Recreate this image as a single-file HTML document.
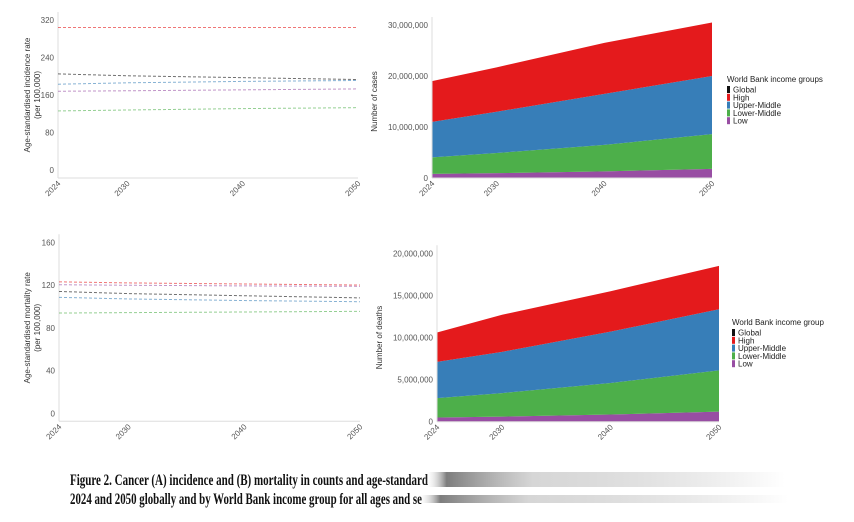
<!DOCTYPE html>
<html><head><meta charset="utf-8">
<style>
html,body{margin:0;padding:0;background:#fff;width:854px;height:522px;overflow:hidden}
svg text{font-family:"Liberation Sans",sans-serif}
</style></head>
<body>
<svg id="s" width="854" height="522" viewBox="0 0 854 522">
<defs>
<linearGradient id="fade" x1="0" x2="1" y1="0" y2="0">
<stop offset="0" stop-color="#fff" stop-opacity="0"/>
<stop offset="0.06" stop-color="#666" stop-opacity="0.85"/>
<stop offset="0.3" stop-color="#bbb" stop-opacity="0.6"/>
<stop offset="1" stop-color="#fff" stop-opacity="1"/>
</linearGradient>
</defs>
</svg>
<script>
const years=[2024,2030,2040,2050];
const xTicks=[2024,2030,2040,2050];
// Panel A left: incidence rates
const incGlobal=[205,201,197,193];
const incHigh=[304,304,304,304];
const incUpper=[183,186,189,191];
const incLower=[126,128,131,133];
const incLow=[168,169,171,173];
const incTicks=[0,80,160,240,320];
// Panel A right: cases (millions), stacked
const casesLow=[0.8,0.95,1.3,1.8];
const casesLower=[3.25,3.95,5.2,6.8];
const casesUpper=[6.95,8.1,10.0,11.4];
const casesHigh=[8.0,8.7,10.0,10.5];
const casesTicks=[0,10,20,30];
// Panel B left: mortality rates
const morGlobal=[114,112,110,108];
const morHigh=[123,122,121,120];
const morUpper=[108.5,107,105.5,104.4];
const morLower=[93.8,94.2,94.8,95.4];
const morLow=[120.3,119.8,119.2,118.8];
const morTicks=[0,40,80,120,160];
// Panel B right: deaths (millions), stacked
const deathsLow=[0.5,0.6,0.85,1.2];
const deathsLower=[2.3,2.8,3.75,4.9];
const deathsUpper=[4.3,4.9,6.1,7.25];
const deathsHigh=[3.5,4.4,4.8,5.15];
const deathsTicks=[0,5,10,15,20];

const NS="http://www.w3.org/2000/svg";
const svg=document.getElementById('s');
function mk(tag,attrs,parent){const e=document.createElementNS(NS,tag);for(const k in attrs)e.setAttribute(k,attrs[k]);(parent||svg).appendChild(e);return e;}
function fmt(v){return Math.round(v).toString().replace(/\B(?=(\d{3})+(?!\d))/g,",");}
const C={global:"#111",high:"#e41a1c",upper:"#377eb8",lower:"#4daf4a",low:"#984ea3"};

function axes(g,x0,x1,yTop,yBot,tickVals,yScale,lab){
  let l=mk('line',{x1:x0,x2:x0,y1:yTop-8,y2:yBot,stroke:'#ddd','stroke-width':1},g);
  
  l=mk('line',{x1:x0,x2:x1,y1:yBot,y2:yBot,stroke:'#ddd','stroke-width':1},g);
  
  tickVals.forEach(v=>{const y=yScale(v);
    const t=mk('text',{x:x0-4,y:y+3,'text-anchor':'end','font-size':8,fill:'#555'},g);t.textContent=lab(v);
    });
}
function xTickLabels(g,xScale,yBot){
  xTicks.forEach(v=>{const x=xScale(v);
    const t=mk('text',{x:x+3,y:yBot+6,'text-anchor':'end','font-size':8,fill:'#555',transform:`rotate(-45 ${x+3} ${yBot+6})`},g);
    t.textContent=v;});
}
function ytitle(g,x,y,lines){
  lines.forEach((s,i)=>{const t=mk('text',{x:x+i*10,y:y,'text-anchor':'middle','font-size':8,fill:'#333',transform:`rotate(-90 ${x+i*10} ${y})`},g);
    t.textContent=s;});
}
function ratePanel(name,x0,x1,yTop,yBot,max,ticks,series,title){
  const g=mk('g',{});
  const xs=v=>x0+(v-2024)/(2050-2024)*(x1-x0);
  const ys=v=>yBot-v/max*(yBot-yTop);
  axes(g,x0,x1,yTop,yBot+8,ticks,ys,v=>v);
  xTickLabels(g,xs,yBot+8);
  ytitle(g,30,(yTop+yBot)/2,title);
  series.forEach(([arr,col,n])=>{
    const p=mk('polyline',{points:arr.map((v,i)=>xs(years[i])+','+ys(v)).join(' '),fill:'none',stroke:col,'stroke-width':1,'stroke-dasharray':'3,2','stroke-opacity':0.6},g);
    
  });
}
function areaPanel(name,x0,x1,yTop,yBot,max,ticks,layers,title,lx,ly,ltitle){
  const g=mk('g',{});
  const xs=v=>x0+(v-2024)/(2050-2024)*(x1-x0);
  const ys=v=>yBot-v/max*(yBot-yTop);
  let base=years.map(()=>0);
  layers.forEach(([arr,col,n])=>{
    const top=base.map((b,i)=>b+arr[i]);
    const pts=top.map((v,i)=>xs(years[i])+','+ys(v)).concat(base.map((v,i)=>xs(years[i])+','+ys(v)).reverse());
    const p=mk('polygon',{points:pts.join(' '),fill:col},g);
    
    base=top;
  });
  axes(g,x0,x1,yTop,yBot,ticks,ys,v=>fmt(v*1e6));
  xTickLabels(g,xs,yBot);
  ytitle(g,x0-55,(yTop+yBot)/2,[title]);
  const lg=mk('g',{},g);
  let t=mk('text',{x:lx,y:ly,'font-size':8,fill:'#222'},lg);t.textContent=ltitle;
  
  [["Global",C.global],["High",C.high],["Upper-Middle",C.upper],["Lower-Middle",C.lower],["Low",C.low]].forEach(([s,c],i)=>{
    const y=ly+9+i*7.8;
    const r=mk('rect',{x:lx,y:y-5,width:3,height:7,fill:c},lg);
    
    const tt=mk('text',{x:lx+6,y:y+1.5,'font-size':8,fill:'#222'},lg);tt.textContent=s;
    
  });
}
ratePanel('incidence-rate-chart',58,358,20,170,320,incTicks,
 [[incHigh,C.high,'line-high'],[incGlobal,C.global,'line-global'],[incUpper,C.upper,'line-upper-middle'],[incLow,C.low,'line-low'],[incLower,C.lower,'line-lower-middle']],
 ['Age-standardised incidence rate','(per 100,000)']);
areaPanel('incidence-count-chart',432,712,25,178,30,casesTicks,
 [[casesLow,C.low,'area-low'],[casesLower,C.lower,'area-lower-middle'],[casesUpper,C.upper,'area-upper-middle'],[casesHigh,C.high,'area-high']],
 'Number of cases',727,82,'World Bank income groups');
ratePanel('mortality-rate-chart',59,360,242.3,413.3,160,morTicks,
 [[morHigh,C.high,'line-high'],[morLow,C.low,'line-low'],[morGlobal,C.global,'line-global'],[morUpper,C.upper,'line-upper-middle'],[morLower,C.lower,'line-lower-middle']],
 ['Age-standardised mortality rate','(per 100,000)']);
areaPanel('mortality-count-chart',437,719,253.3,421.7,20,deathsTicks,
 [[deathsLow,C.low,'area-low'],[deathsLower,C.lower,'area-lower-middle'],[deathsUpper,C.upper,'area-upper-middle'],[deathsHigh,C.high,'area-high']],
 'Number of deaths',732,325,'World Bank income group');

const cap=mk('g',{});
let c1=mk('text',{x:70,y:485,'font-size':16,'font-weight':'bold',fill:'#111',textLength:358,lengthAdjust:'spacingAndGlyphs',style:'font-family:"Liberation Serif",serif'},cap);
c1.textContent='Figure 2. Cancer (A) incidence and (B) mortality in counts and age-standard';

let c2=mk('text',{x:70,y:504,'font-size':16,'font-weight':'bold',fill:'#111',textLength:352,lengthAdjust:'spacingAndGlyphs',style:'font-family:"Liberation Serif",serif'},cap);
c2.textContent='2024 and 2050 globally and by World Bank income group for all ages and se';

let f1=mk('rect',{x:425,y:472,width:360,height:15,fill:'url(#fade)'},cap);

let f2=mk('rect',{x:418,y:495,width:370,height:8,fill:'url(#fade)'},cap);

</script>
</body></html>
